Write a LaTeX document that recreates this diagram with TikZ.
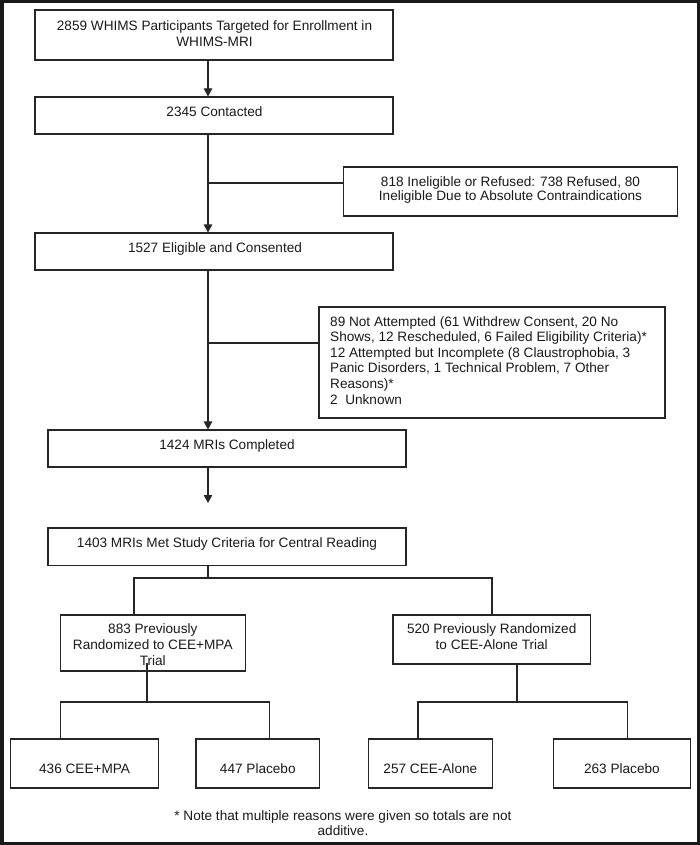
\documentclass[tikz,border=0pt]{standalone}
\usepackage{fontspec}
\setmainfont{Liberation Sans}
\usetikzlibrary{arrows.meta}
\begin{document}
\begin{tikzpicture}[x=1pt,y=-1pt,
  bx/.style={draw=black!85, line width=1.1pt, inner sep=0pt, rectangle},
  ln/.style={draw=black!85, line width=1.1pt},
  arr/.style={ln, -{Triangle[length=8pt,width=8.5pt]}},
  tx/.style={inner sep=0pt, anchor=north, text=black!90, font=\fontsize{13.6}{16.3}\selectfont}]
\useasboundingbox (0,0) rectangle (700,845);
\draw[line width=3.5pt, black!90] (1.75,1.75) rectangle (698.25,843.25);

% boxes
\node[bx, minimum width=358pt, minimum height=50pt] (b1) at (214,35) {};
\node[bx, minimum width=358pt, minimum height=37pt] (b2) at (214,115.5) {};
\node[bx, minimum width=358pt, minimum height=37pt] (b3) at (214,251.5) {};
\node[bx, minimum width=334pt, minimum height=49pt] (r1) at (510.5,191.5) {};
\node[bx, minimum width=346pt, minimum height=111pt] (r2) at (492,362.5) {};
\node[bx, minimum width=358pt, minimum height=37pt] (b4) at (227,448.5) {};
\node[bx, minimum width=358pt, minimum height=37.5pt] (b5) at (227,546.75) {};
\node[bx, minimum width=184.7pt, minimum height=56pt] (b6) at (152.7,643) {};
\node[bx, minimum width=197.7pt, minimum height=49pt] (b7) at (491.8,639.5) {};
\node[bx, minimum width=148.6pt, minimum height=49pt] (c1) at (84.6,763.5) {};
\node[bx, minimum width=123.6pt, minimum height=49pt] (c2) at (257.8,763.5) {};
\node[bx, minimum width=124.1pt, minimum height=49pt] (c3) at (430.35,763.5) {};
\node[bx, minimum width=136.6pt, minimum height=49pt] (c4) at (621.9,763.5) {};

% texts
\node[tx, align=center] (t1) at (214.5,20)
  {2859 WHIMS Participants Targeted for Enrollment in\\WHIMS-MRI};
\node[tx] (t2) at (214.5,106) {2345 Contacted};
\node[tx] (t3) at (215,242.3) {1527 Eligible and Consented};
\node[tx, align=center, font=\fontsize{13.6}{14}\selectfont] (tr1) at (510.5,176.7)
  {818 Ineligible or Refused: 738 Refused, 80\\Ineligible Due to Absolute Contraindications};
\node[tx, anchor=north west, align=left, font=\fontsize{13.6}{15.6}\selectfont] (tr2) at (330,316)
  {89 Not Attempted (61 Withdrew Consent, 20 No\\
   Shows, 12 Rescheduled, 6 Failed Eligibility Criteria)*\\
   12 Attempted but Incomplete (8 Claustrophobia, 3\\
   Panic Disorders, 1 Technical Problem, 7 Other\\
   Reasons)*\\
   2~\ Unknown};
\node[tx] (t4) at (227,439.3) {1424 MRIs Completed};
\node[tx] (t5) at (227,537.7) {1403 MRIs Met Study Criteria for Central Reading};
\node[tx, align=center] (t6) at (152.8,623.3) {883 Previously\\Randomized to CEE+MPA\\Trial};
\node[tx, align=center] (t7) at (491.7,623.3) {520 Previously Randomized\\to CEE-Alone Trial};
\node[tx] (tc1) at (84.6,763.3) {436 CEE+MPA};
\node[tx] (tc2) at (257.8,763.3) {447 Placebo};
\node[tx] (tc3) at (430.35,763.3) {257 CEE-Alone};
\node[tx] (tc4) at (621.9,763.3) {263 Placebo};
\node[tx, align=center, font=\fontsize{13.6}{15}\selectfont] (tf) at (343,810)
  {* Note that multiple reasons were given so totals are not\\additive.};

% junction coordinates
\coordinate (x208) at (208,0);
\coordinate (j1) at (208,183);
\coordinate (j2) at (208,343);
\coordinate (a4) at (208,503);
\coordinate (h5) at (208,578);
\coordinate (x134) at (134,0);
\coordinate (x492) at (492,0);
\coordinate (s6) at (147,663);
\coordinate (h6) at (147,702);
\coordinate (x60) at (60.3,0);
\coordinate (x270) at (269.6,0);
\coordinate (x517) at (517,0);
\coordinate (h7) at (517,702);
\coordinate (x418) at (418,0);
\coordinate (x628) at (627.7,0);

% connectors
\draw[arr] (b1.south -| x208) -- (b2.north -| x208);
\draw[arr] (b2.south -| x208) -- (b3.north -| x208);
\draw[ln] (j1) -- (j1 -| r1.west);
\draw[arr] (b3.south -| x208) -- (b4.north -| x208);
\draw[ln] (j2) -- (j2 -| r2.west);
\draw[arr] (b4.south -| x208) -- (a4);

\draw[ln] (b5.south -| x208) -- (h5);
\draw[ln] (b6.north -| x134) -- (x134 |- h5) -- (x492 |- h5) -- (b7.north -| x492);

\draw[ln] (s6) -- (h6);
\draw[ln] (c1.north -| x60) -- (x60 |- h6) -- (x270 |- h6) -- (c2.north -| x270);

\draw[ln] (b7.south -| x517) -- (h7);
\draw[ln] (c3.north -| x418) -- (x418 |- h7) -- (x628 |- h7) -- (c4.north -| x628);
\end{tikzpicture}
\end{document}
